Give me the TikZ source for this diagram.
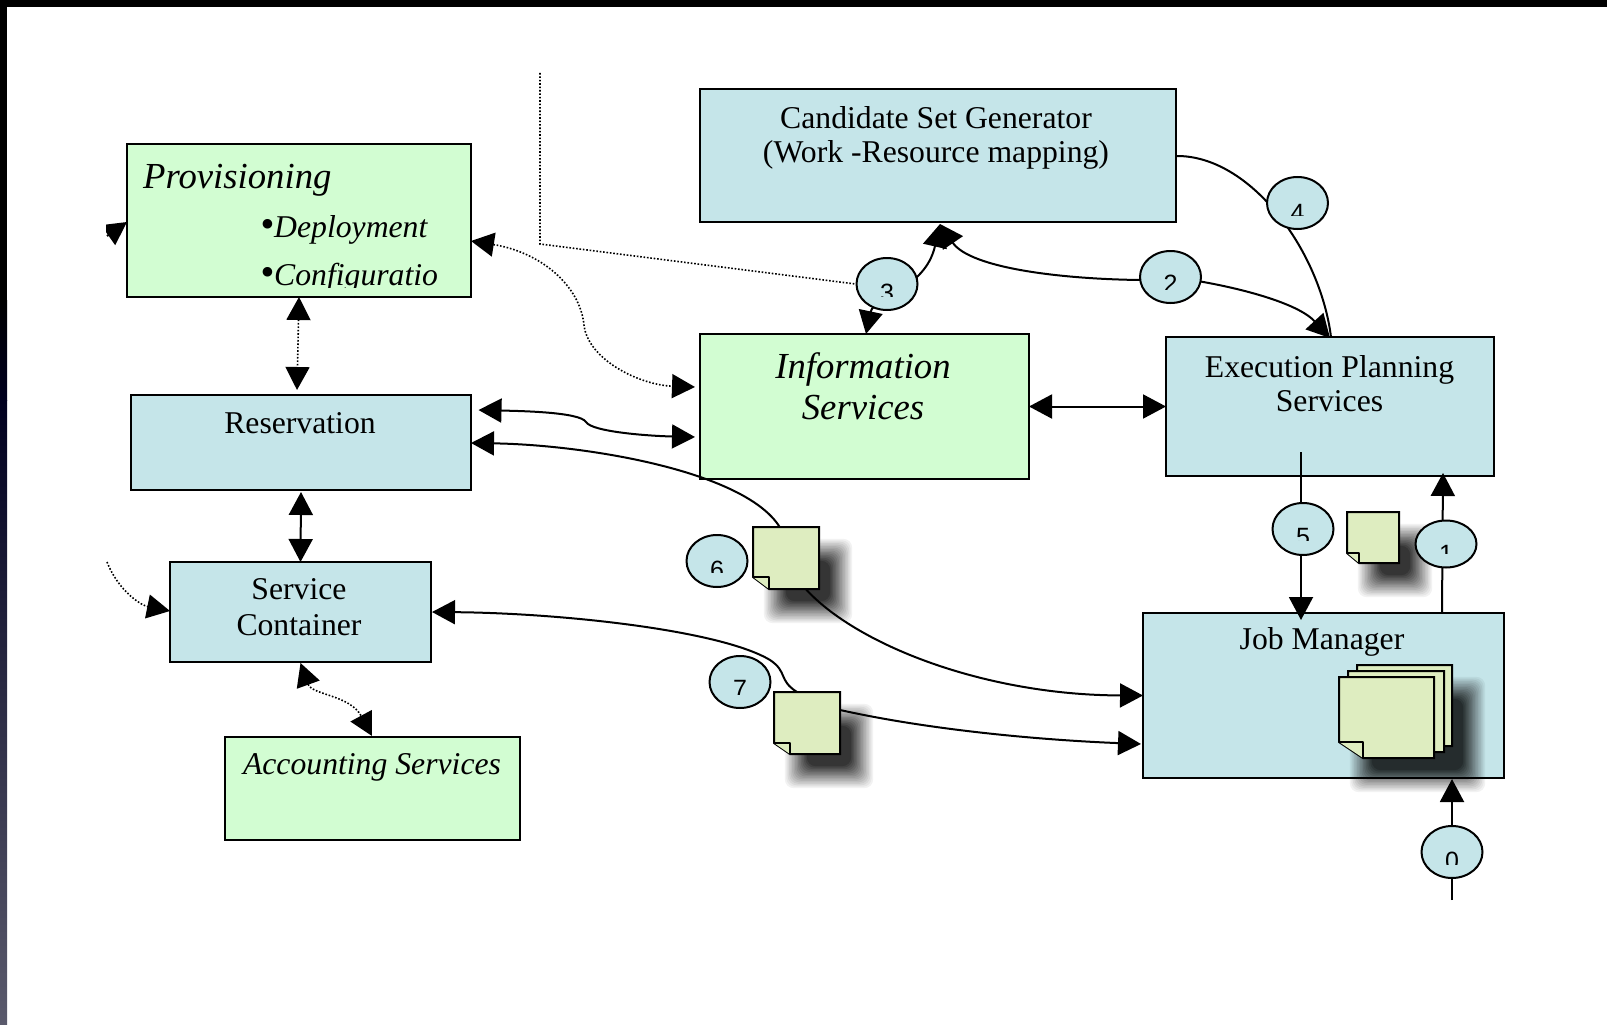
\documentclass[tikz,border=0pt]{standalone}
\usepackage{fontspec}
\setmainfont{Liberation Serif}
\setsansfont{Liberation Sans}
\usetikzlibrary{arrows.meta, shapes.geometric}
\pgfdeclarelayer{front}
\pgfsetlayers{main,front}
\definecolor{boxblue}{HTML}{C5E5E9}
\definecolor{boxgreen}{HTML}{D2FDD2}
\definecolor{sheetgreen}{HTML}{DEEDC0}
\definecolor{stripmid}{HTML}{00001F}
\definecolor{stripend}{HTML}{5A5A6C}
\tikzset{
	>={Triangle[length=23pt,width=24pt]},
	box/.style={draw, line width=2pt, inner sep=0pt, outer sep=0pt},
	bluebox/.style={box, fill=boxblue},
	greenbox/.style={box, fill=boxgreen},
	boxtext/.style={font=\fontsize{31.7}{34}\selectfont, anchor=base, inner sep=0pt, align=center},
	boxital/.style={boxtext, font=\fontsize{31.7}{34}\selectfont\itshape},
	bigital/.style={boxtext, font=\fontsize{36.7}{41}\selectfont\itshape},
	oval/.style={ellipse, draw, line width=2pt, fill=boxblue, minimum width=61pt, minimum height=52pt, inner sep=0pt},
	digit/.style={font=\fontsize{25}{25}\selectfont\sffamily, anchor=base, inner sep=0pt},
	sheet/.style={draw, line width=2pt, fill=sheetgreen, line join=miter},
	dotline/.style={line width=1.6pt, dash pattern=on 1.6pt off 1.8pt},
}
\newcommand{\stepoval}[6][]{
	\node[oval, #1] (oval#4) at (#2,#3) {};
	\begin{scope}
		\clip (#2-20,#5) rectangle (#2+20,#6);
		\node[digit] (num#4) at (#2,#5+18) {#4};
	\end{scope}
}
\newcommand{\sheetshadow}[1]{
	\foreach \layer in {1,...,16} {
		\pgfmathsetmacro\fade{1-(1-.79*\layer/16)/(1-.79*(\layer-1)/16)}
		\pgfmathsetmacro\grow{11-(\layer-1)*22/15}
		\fill[black, opacity=\fade, rounded corners=9pt]
			([xshift=22pt-\grow pt, yshift=-23pt+\grow pt]#1.north west) rectangle
			([xshift=22pt+\grow pt, yshift=-23pt-\grow pt]#1.south east);
	}
}
\newcommand{\notesheet}[7]{
	\node[inner sep=0pt, outer sep=0pt, minimum width={(#4-#2)*1pt}, minimum height={(#5-#3)*1pt}] (#1) at ({(#2+#4)/2},{(#3+#5)/2}) {};
	\draw[sheet] (#1.north west) -- (#1.north east) -- (#1.south east) -- ([xshift=#6pt]#1.south west) -- ([yshift=#7pt]#1.south west) -- cycle;
	\draw[sheet, line join=bevel] ([yshift=#7pt]#1.south west) -- ([xshift=#6pt, yshift=#7pt]#1.south west) -- ([xshift=#6pt]#1.south west);
}

\begin{document}
\begin{tikzpicture}[x=1pt, y=-1pt]
	\useasboundingbox (0,0) rectangle (1607,1025);

	\fill[black] (0,0) rectangle (1607,7);
	\fill[black] (0,0) rectangle (7,300);
	\shade[top color=black, bottom color=stripmid] (0,300) rectangle (7,400);
	\shade[top color=stripmid, bottom color=stripend] (0,400) rectangle (7,1025);

	\node[greenbox, minimum width=344pt, minimum height=153pt] (prov) at (299,220.5) {};
	\node[bluebox,  minimum width=340pt, minimum height=95pt]  (rsv)  at (301,442.5) {};
	\node[bluebox,  minimum width=261pt, minimum height=100pt] (svc)  at (300.5,612) {};
	\node[greenbox, minimum width=295pt, minimum height=103pt] (acct) at (372.5,788.5) {};
	\node[greenbox, minimum width=329pt, minimum height=145pt] (info) at (864.5,406.5) {};
	\node[bluebox,  minimum width=476pt, minimum height=133pt] (cand) at (938,155.5) {};
	\node[bluebox,  minimum width=328pt, minimum height=139pt] (exec) at (1330,406.5) {};
	\node[bluebox,  minimum width=361pt, minimum height=165pt] (job)  at (1323.5,695.5) {};

	\node[bigital, anchor=base west] (provtxt) at (143,188) {Provisioning};
	\node[boxital, anchor=base west] (deptxt) at (260,237) {{\fontsize{40}{40}\selectfont •}Deployment};
	\begin{scope}
		\clip (250,255) rectangle (460,287.5);
		\node[boxital, anchor=base west] (conftxt) at (260,285) {{\fontsize{40}{40}\selectfont •}Configuratio};
	\end{scope}
	\node[boxtext] (rsvtxt) at (300,433) {Reservation};
	\node[boxtext] (svctxt) at (299,635) {Service\\[2pt]Container};
	\node[boxital] (accttxt) at (372,774) {Accounting Services};
	\node[bigital] (infotxt) at (863,419) {Information\\Services};
	\node[boxtext] (candtxt) at (936,162) {Candidate Set Generator\\(Work -Resource mapping)};
	\node[boxtext] (exectxt) at (1329.5,411) {Execution Planning\\Services};
	\node[boxtext] (jobtxt) at (1322,649) {Job Manager};

	\begin{pgfonlayer}{front}
		\node[inner sep=0pt, minimum width=113pt, minimum height=93pt] (stack) at (1395.5,711.5) {};
		\sheetshadow{stack}
		\notesheet{sheetc}{1357}{665}{1452}{746}{24}{16}
		\notesheet{sheetb}{1348}{671}{1444}{752}{24}{16}
		\notesheet{sheeta}{1339}{677}{1434}{758}{24}{16}
		\node[inner sep=0pt, minimum width=66pt, minimum height=62pt] (sixbase) at (786,558) {};
		\sheetshadow{sixbase}
		\notesheet{sheet6}{753}{527}{819}{589}{16}{12}
		\node[inner sep=0pt, minimum width=66pt, minimum height=62pt] (sevenbase) at (807,723) {};
		\sheetshadow{sevenbase}
		\notesheet{sheet7}{774}{692}{840}{754}{16}{11}
		\node[inner sep=0pt, minimum width=52pt, minimum height=51pt] (onebase) at (1373,537.5) {};
		\sheetshadow{onebase}
		\notesheet{sheet1}{1347}{512}{1399}{563}{12}{10}

		\stepoval{1303}{529}{5}{527}{540}
		\stepoval[minimum height=47pt]{1446}{544}{1}{544}{553}
		\stepoval{1452}{852}{0}{851}{864}
		\stepoval{717}{561}{6}{560}{572}
		\stepoval{740}{682}{7}{679}{694}
		\stepoval{887}{284}{3}{283}{296}
		\stepoval{1170.5}{277}{2}{274}{289}
		\stepoval{1297.5}{203}{4}{203}{215}
	\end{pgfonlayer}

	\coordinate (provfree) at (107,236);
	\coordinate (dotfree) at (540,73);
	\coordinate (svcfree) at (107,562);
	\coordinate (jobfree) at (1452,900);

	\begin{scope}[line width=2pt]
		\begin{scope}
			\clip (106,200) rectangle (140,260);
			\path[->] (provfree) edge ([yshift=-1.5pt]prov.west);
		\end{scope}

		\path[<->, dotline] (prov.south) edge ([xshift=-4pt, yshift=5pt]rsv.north);
		\draw[<->, dotline] ([yshift=-20.5pt]prov.east) .. controls (540,252) and (580,285) .. (584,325) .. controls (588,360) and (640,385) .. ([xshift=-5pt, yshift=19.5pt]info.west);
		\draw[dotline] (dotfree) -- (540,244) -- (oval3.west);
		\draw[<->, dotline] ([yshift=-1pt]svc.south) .. controls (312,695) and (350,695) .. ([xshift=-.5pt, yshift=1pt]acct.north);
		\draw[->, dotline] (svcfree) .. controls (118,590) and (140,605) .. ([yshift=1pt]svc.west);

		\path[<->] (info.east) edge (exec.west);
		\path[<->] ([yshift=-2pt]rsv.south) edge (svc.north);
		\draw[<->] ([xshift=7.5pt, yshift=32.5pt]rsv.east) .. controls (520,411) and (580,412) .. (586,422) .. controls (592,432) and (650,436) .. ([xshift=-5pt, yshift=-30.5pt]info.west);

		\draw[<-] ([yshift=-.5pt]rsv.east) .. controls (600,445) and (800,480) .. (sheet6.center);
		\draw[->] (sheet6.center) .. controls (810,625) and (960,695) .. (job.west);
		\draw[<-] ([xshift=1pt]svc.east) .. controls (560,613) and (720,630) .. (770,660) .. controls (788,672) and (778,680) .. ([xshift=-10pt]sheet7.north);
		\draw[->] ([yshift=13pt]sheet7.east) .. controls (930,730) and (1040,740) .. ([xshift=-2pt, yshift=-48.5pt]job.west);

		\draw[<->] ([xshift=1.5pt]info.north) .. controls (874,296) and (925,290) .. ([xshift=2pt, yshift=-2pt]cand.south);
		\draw[<-] ([xshift=2pt, yshift=-2pt]cand.south) .. controls (970,268) and (1060,279) .. (1140,280) -- (oval2.center);
		\draw[->] (oval2.center) .. controls (1220,283) and (1295,300) .. ([xshift=0pt, yshift=-1pt]exec.north);
		\draw ([yshift=-.5pt]cand.east) .. controls (1250,155) and (1320,250) .. ([xshift=1pt]exec.north);

		\path[->] ([xshift=-29pt, yshift=24pt]exec.south) edge ([xshift=-22.5pt, yshift=-7pt]job.north);
		\path[->] ([xshift=118.5pt]job.north) edge ([xshift=113pt, yshift=3pt]exec.south);
		\path[->] (jobfree) edge ([xshift=128.5pt, yshift=-1pt]job.south);
	\end{scope}
\end{tikzpicture}
\end{document}
